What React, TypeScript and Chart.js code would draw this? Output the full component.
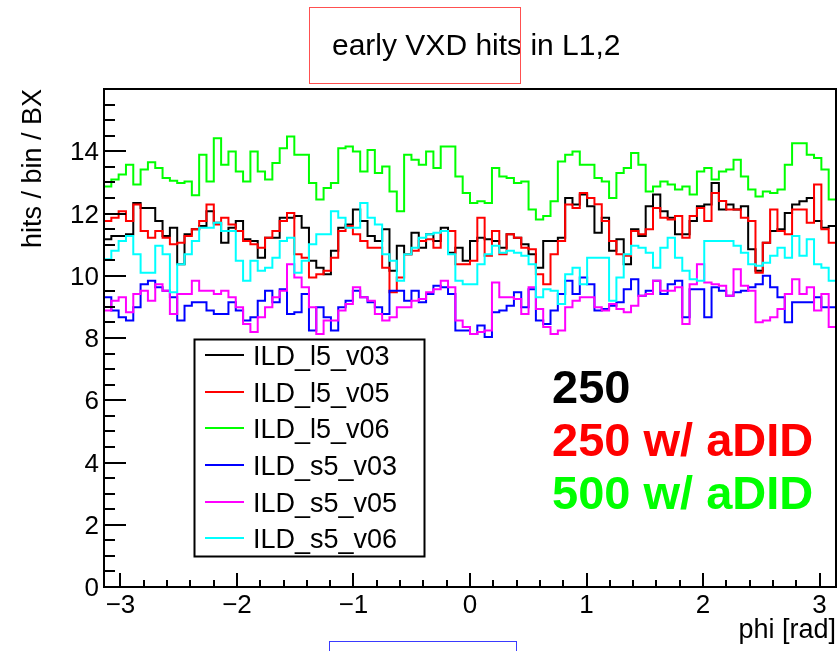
import React, { useEffect, useRef } from "react";
import { Chart, registerables } from "chart.js";

Chart.register(...registerables);

// ---------- chart texts ----------
const TITLE = "early VXD hits in L1,2";
const X_TITLE = "phi [rad]";
const Y_TITLE = "hits / bin / BX";
const ANNOTATION_LINES = ["250", "250 w/ aDID", "500 w/ aDID"];
const ANNOTATION_COLORS = ["#000000", "#ff0000", "#00ff00"];

// ---------- axes ----------
const N_BINS = 100;
const X_MIN = -Math.PI;
const X_MAX = Math.PI;
const Y_MIN = 0;
const Y_MAX = 16;
const X_TICKS = [-3, -2, -1, 0, 1, 2, 3];
const Y_TICKS = [0, 2, 4, 6, 8, 10, 12, 14];

// ---------- series (hits / bin / BX, 100 bins in phi) ----------
const SERIES_LABELS = ["ILD_l5_v03", "ILD_l5_v05", "ILD_l5_v06", "ILD_s5_v03", "ILD_s5_v05", "ILD_s5_v06"];
const SERIES_COLORS = ["#000000", "#ff0000", "#00ff00", "#0000ff", "#ff00ff", "#00ffff"];

const ILD_l5_v03 = [
  11.17, 11.28, 11.28, 11.33, 12.34, 12.18, 12.18, 11.76, 11.28, 11.54,
  10.37, 11.33, 11.49, 11.60, 12.07, 11.70, 11.06, 11.54, 11.76, 11.17,
  11.12, 10.58, 11.22, 11.22, 11.86, 11.86, 11.92, 11.54, 10.48, 10.26,
  10.05, 10.80, 11.54, 11.65, 12.13, 11.76, 11.28, 11.12, 11.49, 10.16,
  10.96, 10.69, 11.38, 10.90, 11.33, 11.12, 11.54, 10.74, 10.90, 10.48,
  11.12, 11.22, 11.17, 11.12, 10.90, 11.33, 11.22, 11.01, 10.69, 10.26,
  11.12, 11.12, 11.22, 12.50, 12.29, 12.61, 12.23, 11.38, 11.86, 10.80,
  11.17, 10.37, 11.49, 11.28, 12.23, 12.61, 12.07, 11.86, 11.33, 11.33,
  11.76, 12.23, 12.29, 12.98, 12.13, 12.29, 12.13, 12.23, 10.85, 10.16,
  11.06, 11.44, 11.49, 12.02, 12.29, 12.39, 12.50, 11.76, 11.54, 11.60,
];

const ILD_l5_v05 = [
  11.76, 11.86, 12.07, 11.76, 12.29, 11.44, 11.22, 11.44, 11.22, 11.01,
  11.06, 11.28, 11.49, 11.76, 12.29, 11.65, 11.86, 11.65, 11.44, 11.12,
  11.01, 10.90, 11.22, 11.44, 11.76, 12.02, 10.69, 10.58, 9.94, 10.05,
  10.16, 10.58, 11.44, 11.60, 11.33, 11.12, 10.90, 10.90, 10.26, 9.47,
  9.94, 10.69, 10.80, 11.12, 11.17, 10.90, 11.44, 11.44, 10.37, 10.37,
  10.48, 11.86, 10.64, 11.44, 10.69, 11.33, 11.22, 10.90, 10.85, 10.05,
  9.73, 10.69, 11.12, 12.29, 12.18, 12.66, 12.50, 12.30, 11.76, 11.12,
  10.69, 10.64, 11.44, 11.33, 11.49, 12.18, 11.86, 11.81, 11.92, 11.22,
  11.92, 12.18, 11.76, 12.66, 12.40, 12.13, 12.13, 11.86, 11.76, 10.10,
  11.06, 12.13, 11.44, 11.33, 12.13, 12.13, 11.70, 12.93, 11.49, 11.06,
];

const ILD_l5_v06 = [
  12.87, 13.09, 13.25, 13.57, 12.93, 13.41, 13.65, 13.46, 13.14, 13.05,
  12.98, 13.03, 12.59, 13.89, 13.03, 14.42, 13.57, 13.99, 13.35, 13.03,
  13.99, 13.35, 13.09, 13.62, 14.10, 14.47, 13.89, 13.89, 12.98, 12.45,
  12.82, 12.98, 14.10, 14.15, 13.99, 13.35, 14.04, 13.30, 13.51, 12.71,
  12.07, 13.89, 13.73, 13.57, 13.99, 13.46, 14.15, 14.15, 13.19, 12.66,
  12.34, 12.39, 12.34, 13.46, 13.19, 13.14, 12.98, 13.03, 12.13, 11.81,
  11.92, 12.39, 13.67, 13.89, 13.99, 13.57, 13.57, 13.14, 13.03, 12.50,
  13.30, 13.46, 13.94, 13.57, 12.71, 12.87, 13.03, 12.93, 12.77, 12.87,
  12.61, 13.35, 13.46, 13.09, 13.35, 13.41, 13.73, 13.19, 12.77, 12.55,
  12.71, 12.66, 12.77, 13.57, 14.26, 14.26, 13.89, 13.78, 13.41, 12.45,
];

const ILD_s5_v03 = [
  9.31, 8.88, 8.67, 8.56, 8.99, 9.73, 9.84, 9.63, 9.52, 9.31,
  8.56, 9.04, 9.15, 9.15, 8.88, 8.77, 8.77, 9.15, 8.88, 8.56,
  8.67, 9.20, 9.52, 9.15, 9.57, 8.77, 8.83, 9.41, 8.24, 8.99,
  8.67, 8.24, 8.99, 9.20, 9.52, 9.31, 9.15, 8.99, 8.77, 9.52,
  9.52, 9.20, 9.52, 9.15, 9.41, 9.68, 9.63, 9.41, 8.24, 8.24,
  8.13, 8.40, 8.03, 8.83, 8.88, 9.04, 9.47, 8.99, 9.57, 8.56,
  8.45, 8.88, 9.41, 9.84, 9.41, 9.94, 9.73, 8.88, 8.93, 9.04,
  9.15, 9.57, 9.89, 9.36, 9.52, 9.84, 9.41, 9.73, 9.84, 8.67,
  9.57, 9.57, 8.67, 9.63, 9.52, 9.36, 9.47, 9.52, 9.63, 9.73,
  10.00, 9.63, 9.31, 8.51, 9.15, 9.15, 9.15, 9.31, 8.99, 8.99,
];

const ILD_s5_v05 = [
  8.88, 9.20, 9.31, 8.83, 9.41, 9.52, 9.20, 9.73, 9.52, 8.77,
  9.41, 9.41, 9.84, 9.52, 9.52, 9.41, 9.52, 9.31, 8.99, 8.45,
  8.19, 8.67, 8.99, 9.31, 9.52, 10.37, 9.94, 9.63, 8.99, 8.13,
  8.56, 8.56, 8.88, 9.09, 9.63, 9.31, 9.20, 8.77, 8.56, 8.67,
  8.99, 8.99, 9.20, 9.25, 9.47, 9.57, 9.84, 9.63, 8.56, 8.35,
  8.13, 8.19, 8.24, 9.78, 9.31, 9.31, 9.25, 8.77, 9.63, 8.93,
  8.35, 8.13, 8.24, 8.99, 9.20, 9.31, 9.31, 8.99, 8.88, 9.09,
  8.93, 8.83, 9.04, 9.36, 9.41, 9.84, 9.52, 9.52, 9.63, 8.45,
  9.73, 10.37, 9.78, 9.73, 9.68, 9.36, 10.21, 9.68, 9.52, 8.51,
  8.56, 8.67, 8.93, 9.41, 9.89, 9.41, 9.63, 8.88, 9.41, 8.35,
];

const ILD_s5_v06 = [
  10.53, 10.80, 11.12, 11.28, 10.69, 10.10, 10.10, 10.96, 10.69, 9.47,
  10.37, 10.69, 11.12, 11.54, 11.54, 11.70, 11.44, 11.44, 10.48, 9.84,
  10.48, 10.16, 10.26, 10.58, 11.12, 11.22, 10.10, 10.48, 11.01, 11.33,
  11.33, 12.07, 11.86, 11.54, 11.54, 12.34, 11.86, 11.65, 10.69, 10.48,
  9.84, 10.69, 10.90, 11.22, 11.33, 11.38, 11.44, 10.69, 9.84, 9.73,
  9.73, 10.37, 10.69, 10.96, 10.74, 10.80, 10.74, 10.64, 10.37, 9.31,
  9.57, 9.52, 9.09, 10.05, 10.26, 9.73, 10.58, 10.58, 10.58, 9.20,
  9.94, 10.69, 10.96, 10.90, 10.74, 10.26, 10.90, 11.22, 10.58, 10.16,
  9.89, 9.84, 11.12, 11.12, 11.12, 11.12, 10.96, 10.74, 10.37, 10.32,
  10.42, 10.64, 10.90, 10.58, 11.28, 10.64, 11.17, 10.37, 10.26, 9.84,
];

const SERIES_VALUES = [ILD_l5_v03, ILD_l5_v05, ILD_l5_v06, ILD_s5_v03, ILD_s5_v05, ILD_s5_v06];

const FONT = '"Liberation Sans", Arial, Helvetica, sans-serif';
const W = 838;
const H = 651;

function binEdges(): number[] {
  const e: number[] = [];
  for (let i = 0; i <= N_BINS; i++) e.push(X_MIN + ((X_MAX - X_MIN) * i) / N_BINS);
  return e;
}

function histPoints(values: number[]) {
  const edges = binEdges();
  const pts = values.map((v, i) => ({ x: edges[i], y: v }));
  pts.push({ x: edges[N_BINS], y: values[values.length - 1] });
  return pts;
}

const fmt = (v: number) => (v < 0 ? "\u2212" + Math.abs(v) : String(v));

const rootStyle = {
  id: "rootStyle",
  beforeDraw(chart: any) {
    const { ctx } = chart;
    ctx.save();
    ctx.fillStyle = "#ffffff";
    ctx.fillRect(0, 0, chart.width, chart.height);
    ctx.restore();
  },
  afterDraw(chart: any) {
    const { ctx, chartArea: a } = chart;
    const xs = chart.scales.x;
    const ys = chart.scales.y;
    ctx.save();

    // frame
    ctx.strokeStyle = "#000000";
    ctx.lineWidth = 2;
    ctx.strokeRect(a.left, a.top, a.right - a.left, a.bottom - a.top);

    // y ticks (major every 2, minor every 0.5)
    ctx.lineWidth = 2;
    for (let k = 0; k * 0.5 <= Y_MAX; k++) {
      const v = k * 0.5;
      const py = Math.round(ys.getPixelForValue(v)) + 0.0;
      const len = k % 4 === 0 ? 22 : 11;
      ctx.beginPath();
      ctx.moveTo(a.left, py);
      ctx.lineTo(a.left + len, py);
      ctx.stroke();
    }
    // x ticks (major every 1, minor every 0.2)
    for (let k = Math.ceil(X_MIN / 0.2); k * 0.2 <= X_MAX; k++) {
      const v = k * 0.2;
      const px = Math.round(xs.getPixelForValue(v));
      const len = k % 5 === 0 ? 14 : 7;
      ctx.beginPath();
      ctx.moveTo(px, a.bottom);
      ctx.lineTo(px, a.bottom - len);
      ctx.stroke();
    }

    // tick labels
    ctx.fillStyle = "#000000";
    ctx.font = `26px ${FONT}`;
    ctx.textAlign = "right";
    ctx.textBaseline = "alphabetic";
    for (const v of Y_TICKS) {
      ctx.fillText(fmt(v), a.left - 5, ys.getPixelForValue(v) + 9);
    }
    ctx.textAlign = "center";
    for (const v of X_TICKS) {
      ctx.fillText(fmt(v), xs.getPixelForValue(v), a.bottom + 26);
    }

    // axis titles
    ctx.font = `27px ${FONT}`;
    ctx.textAlign = "right";
    ctx.fillText(X_TITLE, a.right, 638);
    ctx.save();
    ctx.translate(41, a.top);
    ctx.rotate(-Math.PI / 2);
    ctx.textAlign = "right";
    ctx.fillText(Y_TITLE, 0, 0);
    ctx.restore();

    // title
    ctx.font = `30px ${FONT}`;
    ctx.textAlign = "left";
    ctx.fillText(TITLE, 332, 55);

    // marker boxes
    ctx.lineWidth = 1;
    ctx.strokeStyle = "#ff5050";
    ctx.strokeRect(309.5, 7.5, 211, 76);
    ctx.strokeStyle = "#3a3aff";
    ctx.strokeRect(329.5, 641.5, 187, 20);

    // legend
    const lx = 194.5, ly = 339.5, lw = 230, lh = 217;
    ctx.fillStyle = "#ffffff";
    ctx.fillRect(lx, ly, lw, lh);
    ctx.strokeStyle = "#000000";
    ctx.lineWidth = 2;
    ctx.strokeRect(lx, ly, lw, lh);
    ctx.font = `27px ${FONT}`;
    ctx.textAlign = "left";
    const rowY = [355, 392, 428, 465, 502, 538];
    chart.data.datasets.forEach((ds: any, i: number) => {
      const y = rowY[i];
      ctx.strokeStyle = ds.borderColor;
      ctx.lineWidth = 2;
      ctx.beginPath();
      ctx.moveTo(205, y);
      ctx.lineTo(244, y);
      ctx.stroke();
      ctx.fillStyle = "#000000";
      ctx.fillText(ds.label, 253, y + 10);
    });

    // annotations
    ctx.font = `bold 47px ${FONT}`;
    const baseY = [403, 456, 509];
    ANNOTATION_LINES.forEach((t, i) => {
      ctx.fillStyle = ANNOTATION_COLORS[i];
      ctx.fillText(t, 552, baseY[i]);
    });

    ctx.restore();
  },
};

export default function App() {
  const ref = useRef<HTMLCanvasElement | null>(null);

  useEffect(() => {
    if (!ref.current) return;
    const order = [6, 5, 4, 3, 2, 1];
    const chart = new Chart(ref.current, {
      type: "line",
      data: {
        datasets: SERIES_LABELS.map((label, i) => ({
          label,
          data: histPoints(SERIES_VALUES[i]),
          borderColor: SERIES_COLORS[i],
          backgroundColor: SERIES_COLORS[i],
          borderWidth: 2,
          pointRadius: 0,
          stepped: "before" as const,
          fill: false,
          order: order[i],
        })),
      },
      options: {
        animation: false,
        responsive: false,
        devicePixelRatio: 1,
        events: [],
        layout: { padding: { left: 104, right: 2, top: 89, bottom: 64 } },
        scales: {
          x: { type: "linear", min: X_MIN, max: X_MAX, display: false },
          y: { type: "linear", min: Y_MIN, max: Y_MAX, display: false },
        },
        plugins: {
          legend: { display: false },
          title: { display: false },
          tooltip: { enabled: false },
        },
      },
      plugins: [rootStyle],
    });
    return () => chart.destroy();
  }, []);

  return (
    <div style={{ position: "fixed", left: 0, top: 0, width: W, height: H, background: "#fff" }}>
      <canvas ref={ref} width={W} height={H} style={{ display: "block", width: W, height: H }} />
    </div>
  );
}
